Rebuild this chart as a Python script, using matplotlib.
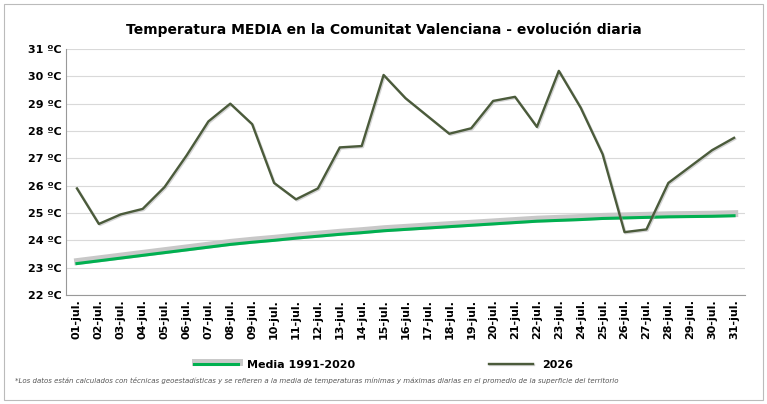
import matplotlib
matplotlib.use("Agg")
import matplotlib.pyplot as plt
import matplotlib.patheffects as pe

days = ["%02d-jul." % d for d in range(1, 32)]
t2026 = [25.9, 24.6, 24.95, 25.15, 25.95, 27.1, 28.35, 29.0, 28.25, 26.1, 25.5, 25.9,
         27.4, 27.45, 30.05, 29.2, 28.55, 27.9, 28.1, 29.1, 29.25, 28.15, 30.2, 28.85,
         27.15, 24.3, 24.4, 26.1, 26.7, 27.3, 27.75]
media = [23.15, 23.25, 23.35, 23.45, 23.55, 23.65, 23.75, 23.85, 23.93, 24.0, 24.08,
         24.15, 24.22, 24.28, 24.35, 24.4, 24.45, 24.5, 24.55, 24.6, 24.65, 24.7, 24.73,
         24.76, 24.8, 24.82, 24.84, 24.86, 24.87, 24.88, 24.9]
yticks = list(range(22, 32))

fig = plt.figure(figsize=(7.67, 4.04), dpi=100)
fig.patches.append(plt.Rectangle((0.005, 0.01), 0.99, 0.98, transform=fig.transFigure,
                                 fill=False, ec="#bbbbbb", lw=0.8))
ax = fig.add_axes([66/767, 1-295/404, (745-66)/767, (295-49)/404])
x = list(range(len(days)))
ax.plot(x, media, color="#00b050", lw=2.2, label="Media 1991-2020",
        path_effects=[pe.Stroke(linewidth=5, foreground="#c8c8c8", offset=(0.5, 1.5)), pe.Normal()])
ax.plot(x, t2026, color="#4b5b3b", lw=1.7, label="2026",
        path_effects=[pe.SimpleLineShadow(offset=(0.8, -0.8), shadow_color="#aaaaaa", alpha=0.5), pe.Normal()])
ax.set_xlim(-0.5, 30.5)
ax.set_ylim(22, 31)
ax.set_yticks(yticks)
ax.set_yticklabels(["%d ºC" % v for v in yticks], fontsize=8, fontweight="bold")
ax.set_xticks(x)
ax.set_xticklabels(days, rotation=90, fontsize=8, fontweight="bold")
ax.grid(axis="y", color="#d9d9d9", lw=0.8)
ax.set_axisbelow(True)
for s in ["top", "right"]:
    ax.spines[s].set_visible(False)
ax.spines["left"].set_color("#999999")
ax.spines["bottom"].set_color("#999999")
ax.tick_params(length=0, pad=3)
fig.text(0.5, 1-30/404, "Temperatura MEDIA en la Comunitat Valenciana - evolución diaria",
         ha="center", va="center", fontsize=10, fontweight="bold")
fig.legend(loc="center", bbox_to_anchor=(0.5, 1-365/404), ncol=2, frameon=False,
           prop={"size": 8, "weight": "bold"}, columnspacing=12, handlelength=4)
fig.text(0.02, 1-381/404, "*Los datos están calculados con técnicas geoestadísticas y se refieren a la media de temperaturas mínimas y máximas diarias en el promedio de la superficie del territorio",
         fontsize=5, style="italic", color="#555555", va="center")
fig.savefig("out.png")
